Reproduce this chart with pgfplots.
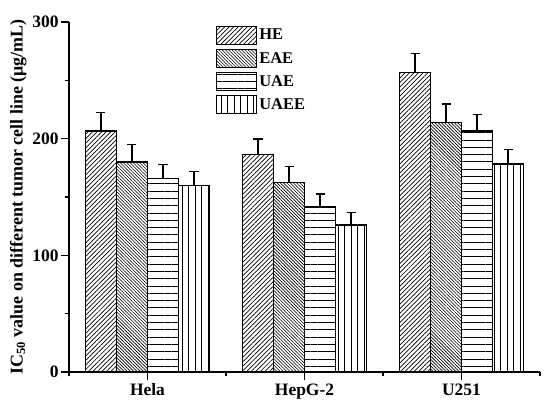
\documentclass[border=0pt]{standalone}
\usepackage{fontspec}
\setmainfont{Liberation Serif}
\usepackage{pgfplots}
\pgfplotsset{compat=1.18}
\usetikzlibrary{patterns.meta}
\begin{document}
\begin{tikzpicture}
\begin{axis}[
  scale only axis,
  width=471bp, height=350bp,
  xmin=0.5, xmax=3.5,
  ymin=0, ymax=300,
  axis x line*=bottom, axis y line*=left,
  axis line style={line width=1.2pt},
  xtick={1,2,3}, xticklabels={Hela,HepG-2,U251},
  minor xtick={0.5,1.5,2.5,3.5},
  ytick={0,100,200,300}, minor ytick={50,150,250},
  tick align=outside,
  major tick length=8bp, minor tick length=4bp,
  tick style={line width=1.2pt, black},
  /pgf/number format/assume math mode=true,
  ticklabel style={font=\fontsize{17.5}{20}\selectfont\bfseries},
  yticklabel style={xshift=1bp},
  ylabel={IC\textsubscript{50} value on different tumor cell line (μg/mL)},
  ylabel style={font=\fontsize{18}{20}\selectfont\bfseries, yshift=-1bp},
  ybar=0pt, bar width=31bp,
  error bars/y dir=plus, error bars/y explicit,
  error bars/error bar style={line width=1.2pt, black},
  error bars/error mark options={rotate=90, mark size=4.5bp, line width=1.2pt, black},
  legend style={draw=none, fill=none, at={(0.312,0.99)}, anchor=north west,
     inner sep=0pt,
     font=\fontsize{16.5}{19}\selectfont\bfseries, row sep=4bp,
     /tikz/every even column/.append style={column sep=1bp}},
  legend cell align=left,
  legend image code/.code={\draw[#1, line width=1.2pt] (0bp,-9bp) rectangle (40bp,9bp);},
  every axis plot/.append style={draw=black, line width=1.2pt},
  clip=false,
]
\addplot[pattern={Lines[angle=45,distance=3.2bp,line width=0.7bp]}]
  coordinates {(1,206.6) +- (0,15.5) (2,186.6) +- (0,13.1) (3,256.6) +- (0,16.5)};
\addplot[pattern={Lines[angle=-45,distance=2.3bp,line width=0.6bp]}]
  coordinates {(1,180.0) +- (0,15) (2,162.3) +- (0,13.7) (3,213.7) +- (0,16)};
\addplot[pattern={Lines[angle=0,distance=7.3bp,line width=0.7bp]}]
  coordinates {(1,166.0) +- (0,12) (2,141.4) +- (0,11.2) (3,206.6) +- (0,14.3)};
\addplot[pattern={Lines[angle=90,distance=6.5bp,line width=0.7bp]}]
  coordinates {(1,160.0) +- (0,12) (2,126.0) +- (0,10.6) (3,178.3) +- (0,12.7)};
\legend{HE,EAE,UAE,UAEE}
\end{axis}
\useasboundingbox ([xshift=-69bp,yshift=-38bp]current axis.south west) rectangle ([xshift=10bp,yshift=22bp]current axis.north east);
\end{tikzpicture}
\end{document}
